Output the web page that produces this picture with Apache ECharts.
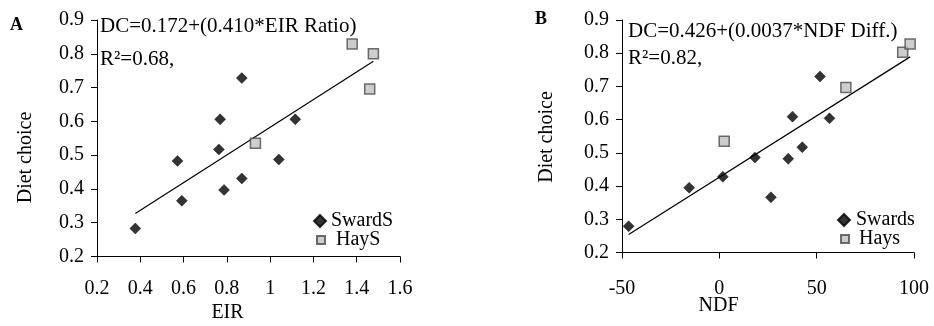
<!DOCTYPE html>
<html>
<head>
<meta charset="utf-8">
<script src="https://cdn.jsdelivr.net/npm/echarts@6/dist/echarts.min.js"></script>
<style>
html,body{margin:0;padding:0;background:#fff;}
#chart{width:934px;height:326px;}
</style>
</head>
<body>
<div id="chart"></div>
<script>
// Panel A: EIR vs diet choice
const swardsA_x = [0.377, 0.572, 0.592, 0.763, 0.769, 0.787, 0.869, 0.869, 1.040, 1.116];
const swardsA_y = [0.283, 0.483, 0.365, 0.517, 0.606, 0.397, 0.728, 0.431, 0.487, 0.606];
const haysA_x = [0.932, 1.379, 1.477, 1.460];
const haysA_y = [0.535, 0.829, 0.800, 0.696];
const trendA_x = [0.377, 1.477];
const trendA_y = [0.327, 0.778];

// Panel B: NDF difference vs diet choice
const swardsB_x = [-46.6, -15.5, 1.8, 18.3, 26.5, 35.4, 37.6, 42.6, 51.7, 56.6];
const swardsB_y = [0.279, 0.395, 0.428, 0.486, 0.366, 0.482, 0.609, 0.517, 0.730, 0.604];
const haysB_x = [2.5, 65.0, 94.2, 98.0];
const haysB_y = [0.535, 0.697, 0.803, 0.828];
const trendB_x = [-46.6, 98.0];
const trendB_y = [0.254, 0.789];

// Axis ranges / ticks
const xA_range = [0.2, 1.6, 0.2];
const xB_range = [-50, 100, 50];
const y_range = [0.2, 0.9, 0.1];

const FONT = '"Liberation Serif","Times New Roman",serif';
const pair = (xs, ys) => xs.map((x, i) => [x, ys[i]]);

const chart = echarts.init(document.getElementById('chart'), null, {renderer: 'canvas'});

function xAxisCfg(gi, r, margin) {
  return {
    gridIndex: gi, type: 'value', min: r[0], max: r[1], interval: r[2],
    axisLine: {show: true, onZero: false, lineStyle: {color: '#000', width: 1}},
    axisTick: {show: true, inside: false, length: 6, lineStyle: {color: '#000'}},
    axisLabel: {color: '#000', fontFamily: FONT, fontSize: 20, margin: margin},
    splitLine: {show: false}
  };
}
function yAxisCfg(gi, r) {
  return {
    gridIndex: gi, type: 'value', min: r[0], max: r[1], interval: r[2],
    axisLine: {show: true, onZero: false, lineStyle: {color: '#000', width: 1}},
    axisTick: {show: true, inside: false, length: 6, lineStyle: {color: '#000'}},
    axisLabel: {color: '#000', fontFamily: FONT, fontSize: 20, margin: 13,
      formatter: v => v.toFixed(1)},
    splitLine: {show: false}
  };
}
const diamondStyle = {color: '#000', borderColor: '#000', borderWidth: 0.5};
const squareStyle = {color: '#c0c0c0', borderColor: '#4a4a4a', borderWidth: 1.5};

function legendCfg(name, icon, left, top, size, pad) {
  return {
    data: [name], left: left, top: top, orient: 'vertical', icon: icon,
    itemWidth: size, itemHeight: size, itemGap: 0, padding: 0, selectedMode: false,
    textStyle: {color: '#000', fontFamily: FONT, fontSize: 20, padding: pad}
  };
}

const option = {
  animation: false,
  backgroundColor: '#fff',
  grid: [
    {left: 97, top: 20, width: 303, height: 236.5},
    {left: 622, top: 20, width: 292, height: 232.5}
  ],
  xAxis: [xAxisCfg(0, xA_range, 22), xAxisCfg(1, xB_range, 26)],
  yAxis: [yAxisCfg(0, y_range), yAxisCfg(1, y_range)],
  legend: [
    legendCfg('SwardS', 'diamond', 313, 211, 12, [7, 0, 0, 0]),
    legendCfg('HayS', 'rect', 316, 230, 8, [16, 0, 0, 6]),
    legendCfg('Swards', 'diamond', 837, 210, 12, [2, 0, 0, 1]),
    legendCfg('Hays', 'rect', 840, 229, 8, [3, 0, 0, 5])
  ],
  series: [
    {type: 'line', xAxisIndex: 0, yAxisIndex: 0, data: pair(trendA_x, trendA_y),
      symbol: 'none', silent: true, lineStyle: {color: '#000', width: 1.2}, z: 1},
    {name: 'SwardS', type: 'scatter', xAxisIndex: 0, yAxisIndex: 0, data: pair(swardsA_x, swardsA_y),
      symbol: 'diamond', symbolSize: 11, itemStyle: diamondStyle, z: 3},
    {name: 'HayS', type: 'scatter', xAxisIndex: 0, yAxisIndex: 0, data: pair(haysA_x, haysA_y),
      symbol: 'rect', symbolSize: 10, itemStyle: squareStyle, z: 3},
    {type: 'line', xAxisIndex: 1, yAxisIndex: 1, data: pair(trendB_x, trendB_y),
      symbol: 'none', silent: true, lineStyle: {color: '#000', width: 1.2}, z: 1},
    {name: 'Swards', type: 'scatter', xAxisIndex: 1, yAxisIndex: 1, data: pair(swardsB_x, swardsB_y),
      symbol: 'diamond', symbolSize: 11, itemStyle: diamondStyle, z: 3},
    {name: 'Hays', type: 'scatter', xAxisIndex: 1, yAxisIndex: 1, data: pair(haysB_x, haysB_y),
      symbol: 'rect', symbolSize: 10, itemStyle: squareStyle, z: 3}
  ],
  graphic: [
    {type: 'text', x: 16.5, y: 25, style: {text: 'A', font: 'bold 18px ' + FONT, fill: '#000', align: 'center', verticalAlign: 'middle'}},
    {type: 'text', x: 541, y: 19, style: {text: 'B', font: 'bold 18px ' + FONT, fill: '#000', align: 'center', verticalAlign: 'middle'}},
    {type: 'text', x: 100, y: 26, style: {text: 'DC=0.172+(0.410*EIR Ratio)', font: '21px ' + FONT, fill: '#000', align: 'left', verticalAlign: 'middle'}},
    {type: 'text', x: 100, y: 59, style: {text: 'R²=0.68,', font: '21px ' + FONT, fill: '#000', align: 'left', verticalAlign: 'middle'}},
    {type: 'text', x: 628, y: 31, style: {text: 'DC=0.426+(0.0037*NDF Diff.)', font: '21px ' + FONT, fill: '#000', align: 'left', verticalAlign: 'middle'}},
    {type: 'text', x: 628, y: 58, style: {text: 'R²=0.82,', font: '21px ' + FONT, fill: '#000', align: 'left', verticalAlign: 'middle'}},
    {type: 'text', x: 26, y: 157.5, rotation: Math.PI / 2, style: {text: 'Diet choice', font: '20px ' + FONT, fill: '#000', align: 'center', verticalAlign: 'middle'}},
    {type: 'text', x: 546.5, y: 137, rotation: Math.PI / 2, style: {text: 'Diet choice', font: '20px ' + FONT, fill: '#000', align: 'center', verticalAlign: 'middle'}},
    {type: 'text', x: 227.5, y: 313, style: {text: 'EIR', font: '20px ' + FONT, fill: '#000', align: 'center', verticalAlign: 'middle'}},
    {type: 'text', x: 718.5, y: 306, style: {text: 'NDF', font: '20px ' + FONT, fill: '#000', align: 'center', verticalAlign: 'middle'}}
  ]
};
chart.setOption(option);
</script>
</body>
</html>
